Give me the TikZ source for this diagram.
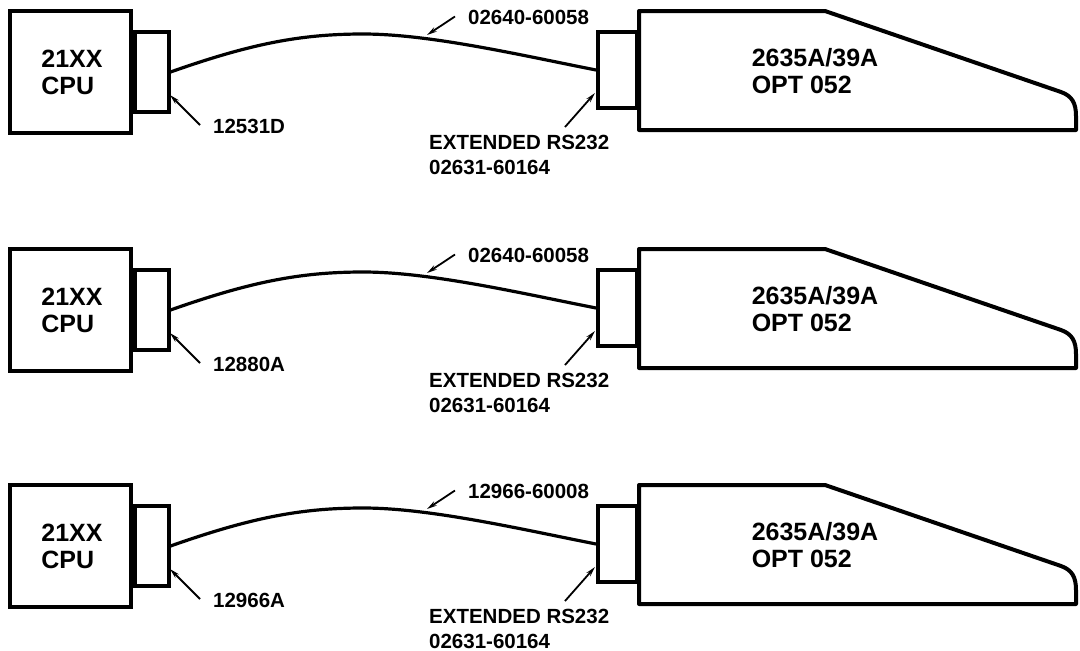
\documentclass[tikz,border=0pt]{standalone}
\usepackage{fontspec}
\setmainfont{Liberation Sans}
\usetikzlibrary{arrows.meta,calc}
\begin{document}
\begin{tikzpicture}[x=1pt,y=-1pt,
  box/.style={draw,line width=4pt,inner sep=0pt},
  cable/.style={line width=3.2pt},
  lead/.style={line width=1.8pt,-{Stealth[length=10pt,width=5pt]}},
  big/.style={font=\bfseries\fontsize{25}{27}\selectfont,align=left,inner sep=0pt},
  small/.style={font=\bfseries\fontsize{20.5}{25}\selectfont,align=left,inner sep=0pt},
]
\useasboundingbox (0,0) rectangle (1080,651);
\foreach \dy/\cl/\pl [count=\i] in {0/12531D/02640-60058, 238/12880A/02640-60058, 474/12966A/12966-60008}{
\begin{scope}[shift={(0,\dy)}]
  % CPU
  \node[box,big,minimum width=121pt,minimum height=122pt] (cpu\i) at (70,72) {\hspace*{4pt}21XX\\\hspace*{4pt}CPU};
  \node[box,minimum width=34pt,minimum height=80pt,anchor=west] (cp\i) at (cpu\i.east) {};
  % terminal port
  \node[box,minimum width=39pt,minimum height=76pt] (tp\i) at (617.5,70) {};
  % terminal body
  \draw[line width=4pt,line join=round] (tp\i.north east |- 0,11) coordinate (tb\i) -- (825,11) -- (1061,92)
     .. controls (1072,96) and (1076,103) .. (1076,116) -- (1076,130) -- (tp\i.east |- 0,130) -- cycle;
  \node[big] (term\i) at (815,71.5) {2635A/39A\\OPT 052};
  % cable
  \draw[cable] (cp\i.east) .. controls (250,44) and (300,34) .. (363,34)
     .. controls (430,34) and (520,55) .. (tp\i.west);
  % labels
  \node[small,anchor=west] (cl\i) at (213,126) {\cl};
  \coordinate (ct\i) at (170,95);
  \draw[lead] ($(cl\i.west)+(-13,-1)$) -- (ct\i);
  \node[small,anchor=west] (pl\i) at (468,17.5) {\pl};
  \coordinate (pt\i) at (427,35);
  \draw[lead] ($(pl\i.west)+(-13,-1)$) -- (pt\i);
  \node[small,anchor=west] (rs\i) at (429,155) {EXTENDED RS232\\02631-60164};
  \coordinate (rt\i) at (595,93);
  \draw[lead] ($(rs\i.north west)+(136,-8)$) -- (rt\i);
\end{scope}
}
\end{tikzpicture}
\end{document}
